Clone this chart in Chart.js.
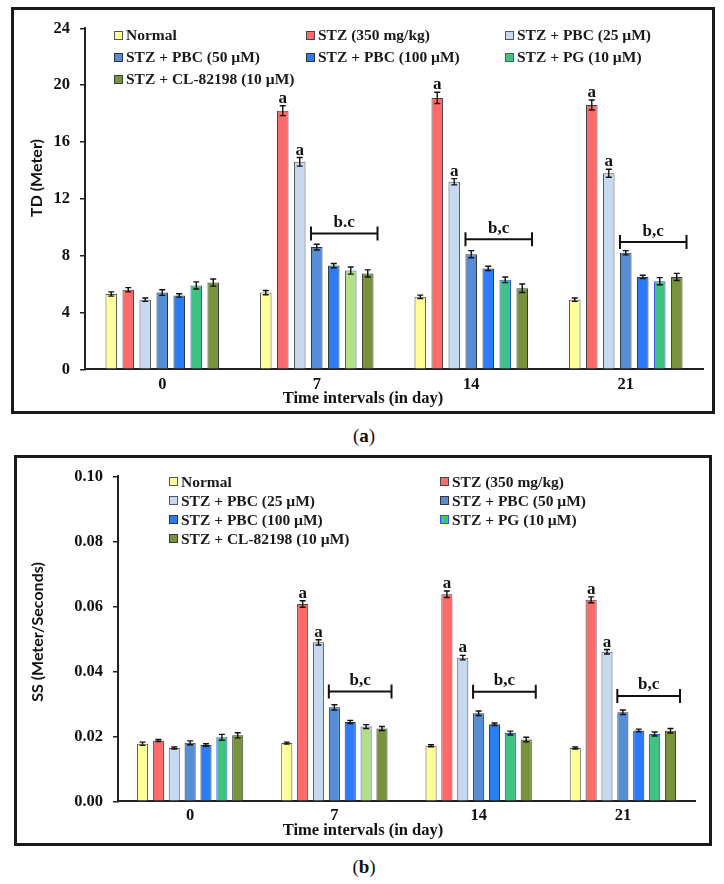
<!DOCTYPE html>
<html>
<head>
<meta charset="utf-8">
<script src="https://cdn.jsdelivr.net/npm/chart.js@4.4.1/dist/chart.umd.min.js"></script>
<style>
	body { margin: 0; background: #fff; width: 724px; height: 884px; position: relative; overflow: hidden; }
	.box { position: absolute; border: 3px solid #1a1a1a; box-sizing: border-box; }
	.box canvas { position: absolute; left: 0; top: 0; }
	.legend { position: absolute; display: grid; font: bold 15.5px "Liberation Serif", serif; color: #1a1a1a; }
	.legend div { white-space: nowrap; display: flex; align-items: center; }
	.legend .sw { display: inline-block; width: 7px; height: 7px; border: 1px solid #444; margin-right: 3px; }
	.cap { position: absolute; left: 0; width: 728px; text-align: center; font: 19px "Liberation Serif", serif; color: #111; }
</style>
</head>
<body>
<div class="box" style="left:11px; top:7px; width:704px; height:407px;"><canvas id="chartTD" width="698" height="401"></canvas></div>
<div class="legend" id="legendTD" style="left:114px; top:24px; grid-template-columns:192px 199px auto; grid-auto-rows:22px;"></div>
<div class="cap" style="top:425px;">(<b>a</b>)</div>

<div class="box" style="left:14px; top:455px; width:698px; height:391px;"><canvas id="chartSS" width="692" height="385"></canvas></div>
<div class="legend" id="legendSS" style="left:169px; top:472px; grid-template-columns:271px auto; grid-auto-rows:19px;"></div>
<div class="cap" style="top:856px;">(<b>b</b>)</div>

<script>
// groups and time points
var groupNames = ["Normal", "STZ (350 mg/kg)", "STZ + PBC (25 µM)", "STZ + PBC (50 µM)", "STZ + PBC (100 µM)", "STZ + PG (10 µM)", "STZ + CL-82198 (10 µM)"];
var days = ["0", "7", "14", "21"];

// (a) TD (Meter), mean per day
var tdNormal = [5.3, 5.4, 5.1, 4.9];
var tdStz = [5.6, 18.2, 19.1, 18.6];
var tdPbc25 = [4.9, 14.6, 13.2, 13.8];
var tdPbc50 = [5.4, 8.6, 8.1, 8.2];
var tdPbc100 = [5.2, 7.3, 7.1, 6.5];
var tdPg = [5.9, 6.95, 6.3, 6.2];
var tdCl = [6.1, 6.75, 5.7, 6.5];
// (a) error bars
var tdNormalErr = [0.15, 0.15, 0.12, 0.12];
var tdStzErr = [0.15, 0.35, 0.4, 0.35];
var tdPbc25Err = [0.12, 0.3, 0.22, 0.28];
var tdPbc50Err = [0.2, 0.2, 0.25, 0.15];
var tdPbc100Err = [0.12, 0.15, 0.15, 0.12];
var tdPgErr = [0.25, 0.25, 0.2, 0.25];
var tdClErr = [0.25, 0.25, 0.3, 0.25];
// (a) significance marks
var tdMarkA = ["", "a", "a", "a"];
var tdBracket = [null, 9.55, 9.15, 8.95];
var tdBracketText = ["", "b.c", "b,c", "b,c"];
var tdTicks = [0, 4, 8, 12, 16, 20, 24];

// (b) SS (Meter/Seconds), mean per day
var ssNormal = [0.0177, 0.0179, 0.0171, 0.0164];
var ssStz = [0.0187, 0.0607, 0.0637, 0.0620];
var ssPbc25 = [0.0164, 0.0489, 0.0442, 0.0460];
var ssPbc50 = [0.0180, 0.0289, 0.0271, 0.0274];
var ssPbc100 = [0.0173, 0.0244, 0.0237, 0.0218];
var ssPg = [0.0197, 0.0230, 0.0210, 0.0207];
var ssCl = [0.0203, 0.0224, 0.0190, 0.0217];
// (b) error bars
var ssNormalErr = [0.0005, 0.0003, 0.0003, 0.0003];
var ssStzErr = [0.0003, 0.0010, 0.0010, 0.0009];
var ssPbc25Err = [0.0003, 0.0008, 0.0007, 0.0007];
var ssPbc50Err = [0.0006, 0.0008, 0.0007, 0.0007];
var ssPbc100Err = [0.0004, 0.0005, 0.0004, 0.0004];
var ssPgErr = [0.0009, 0.0006, 0.0006, 0.0006];
var ssClErr = [0.0008, 0.0006, 0.0007, 0.0007];
// (b) significance marks
var ssMarkA = ["", "a", "a", "a"];
var ssBracket = [null, 0.0338, 0.0337, 0.0324];
var ssBracketText = ["", "b,c", "b,c", "b,c"];
var ssTicks = [0, 0.02, 0.04, 0.06, 0.08, 0.10];

var fills = ["#ffff99", "#ff6b6b", "#c6d9f0", "#558ed5", "#2b7cf6", "#40c283", "#77933c"];
var pgDay7Fill = "#b5de88";
var borders = ["#555", "#444", "#555", "#333", "#333", "#2f50f0", "#3a3a3a"];
var serif = "'Liberation Serif', serif";

var extras = {
	id: "extras",
	afterDatasetsDraw: function (chart, args, opts) {
		var ctx = chart.ctx;
		var y = chart.scales.y;
		ctx.save();
		ctx.strokeStyle = "#111";
		ctx.fillStyle = "#111";
		ctx.lineWidth = 1.4;
		ctx.font = "bold 17px " + serif;
		ctx.textAlign = "center";
		ctx.textBaseline = "alphabetic";
		chart.data.datasets.forEach(function (ds, i) {
			var meta = chart.getDatasetMeta(i);
			meta.data.forEach(function (bar, j) {
				var v = ds.data[j], e = ds.errors[j];
				var top = y.getPixelForValue(v + e);
				var bot = y.getPixelForValue(v - e);
				ctx.beginPath();
				ctx.moveTo(bar.x, top); ctx.lineTo(bar.x, bot);
				ctx.moveTo(bar.x - 3, top); ctx.lineTo(bar.x + 3, top);
				ctx.moveTo(bar.x - 3, bot); ctx.lineTo(bar.x + 3, bot);
				ctx.stroke();
				if (ds.marks && ds.marks[j]) {
					ctx.fillText(ds.marks[j], bar.x, top - 3);
				}
			});
		});
		// b,c brackets across PBC50 .. CL-82198
		var first = chart.getDatasetMeta(3), last = chart.getDatasetMeta(6);
		ctx.lineWidth = 2;
		opts.levels.forEach(function (lv, j) {
			if (lv === null) return;
			var b0 = first.data[j], b1 = last.data[j];
			var x0 = b0.x - b0.width / 2, x1 = b1.x + b1.width / 2 + 4;
			var yy = y.getPixelForValue(lv);
			ctx.beginPath();
			ctx.moveTo(x0, yy); ctx.lineTo(x1, yy);
			ctx.moveTo(x0, yy - 7); ctx.lineTo(x0, yy + 7);
			ctx.moveTo(x1, yy - 7); ctx.lineTo(x1, yy + 7);
			ctx.stroke();
			ctx.textBaseline = "middle";
			ctx.fillText(opts.texts[j], (x0 + x1) / 2, yy - 11);
		});
		ctx.restore();
	},
	afterDraw: function (chart, args, opts) {
		var ctx = chart.ctx, area = chart.chartArea;
		ctx.save();
		ctx.fillStyle = "#111";
		ctx.textAlign = "center";
		ctx.textBaseline = "middle";
		ctx.font = "bold 16.5px " + serif;
		ctx.fillText("Time intervals (in day)", chart.width / 2, area.bottom + 29);
		ctx.translate(opts.yTitleX, opts.yTitleY);
		ctx.rotate(-Math.PI / 2);
		ctx.font = "bold 16px Lato, 'Open Sans', sans-serif";
		ctx.fillText(opts.yTitle, 0, 0);
		ctx.restore();
	}
};

function buildDatasets(values, errors, marks) {
	return groupNames.map(function (name, i) {
		var bg = fills[i];
		if (i === 5) {
			bg = days.map(function (d) { return d === "7" ? pgDay7Fill : fills[5]; });
		}
		return {
			label: name,
			data: values[i],
			errors: errors[i],
			marks: (i === 1 || i === 2) ? marks : null,
			backgroundColor: bg,
			borderColor: borders[i],
			borderWidth: 1
		};
	});
}

function buildLegend(id) {
	var el = document.getElementById(id);
	groupNames.forEach(function (name, i) {
		var row = document.createElement("div");
		var sw = document.createElement("span");
		sw.className = "sw";
		sw.style.background = fills[i];
		sw.style.borderColor = borders[i];
		row.appendChild(sw);
		row.appendChild(document.createTextNode(name));
		el.appendChild(row);
	});
}

function makeChart(canvasId, cfg) {
	var tickFont = { family: serif, size: 16.5, weight: "bold", lineHeight: 1 };
	return new Chart(document.getElementById(canvasId), {
		type: "bar",
		data: { labels: days, datasets: buildDatasets(cfg.values, cfg.errors, cfg.marks) },
		plugins: [extras],
		options: {
			responsive: false,
			animation: false,
			layout: { padding: { top: cfg.padTop, right: cfg.padRight, left: 0, bottom: 0 } },
			datasets: { bar: { barPercentage: cfg.barPct, categoryPercentage: 0.77 } },
			plugins: {
				legend: { display: false },
				tooltip: { enabled: false },
				extras: { levels: cfg.levels, texts: cfg.texts, yTitle: cfg.yTitle, yTitleX: cfg.yTitleX, yTitleY: cfg.yTitleY }
			},
			scales: {
				x: {
					grid: { display: false, drawTicks: false },
					border: { display: true, color: "#222", width: 2 },
					ticks: { font: tickFont, color: "#111", padding: cfg.xPad },
					afterFit: function (s) { s.height = cfg.xHeight; }
				},
				y: {
					min: cfg.ticks[0],
					max: cfg.ticks[cfg.ticks.length - 1],
					afterBuildTicks: function (s) { s.ticks = cfg.ticks.map(function (v) { return { value: v }; }); },
					ticks: {
						font: tickFont, color: "#111", padding: 10,
						callback: function (v) { return cfg.fmt(v); }
					},
					grid: { display: true, drawOnChartArea: false, drawTicks: true, tickLength: 5, color: "#222", lineWidth: 1.5 },
					border: { display: true, color: "#222", width: 2 },
					afterFit: function (s) { s.width = cfg.yWidth; }
				}
			}
		}
	});
}

buildLegend("legendTD");
buildLegend("legendSS");

makeChart("chartTD", {
	values: [tdNormal, tdStz, tdPbc25, tdPbc50, tdPbc100, tdPg, tdCl],
	errors: [tdNormalErr, tdStzErr, tdPbc25Err, tdPbc50Err, tdPbc100Err, tdPgErr, tdClErr],
	marks: tdMarkA, levels: tdBracket, texts: tdBracketText, ticks: tdTicks,
	fmt: function (v) { return String(v); },
	yTitle: "TD (Meter)", yTitleX: 23, yTitleY: 168,
	padTop: 8.3, padRight: 9, yWidth: 71, xHeight: 41.7, xPad: 7, barPct: 0.68
});

makeChart("chartSS", {
	values: [ssNormal, ssStz, ssPbc25, ssPbc50, ssPbc100, ssPg, ssCl],
	errors: [ssNormalErr, ssStzErr, ssPbc25Err, ssPbc50Err, ssPbc100Err, ssPgErr, ssClErr],
	marks: ssMarkA, levels: ssBracket, texts: ssBracketText, ticks: ssTicks,
	fmt: function (v) { return v.toFixed(2); },
	yTitle: "SS (Meter/Seconds)", yTitleX: 21, yTitleY: 174,
	padTop: 10.3, padRight: 14, yWidth: 101, xHeight: 41.7, xPad: 6, barPct: 0.7
});
</script>
</body>
</html>
